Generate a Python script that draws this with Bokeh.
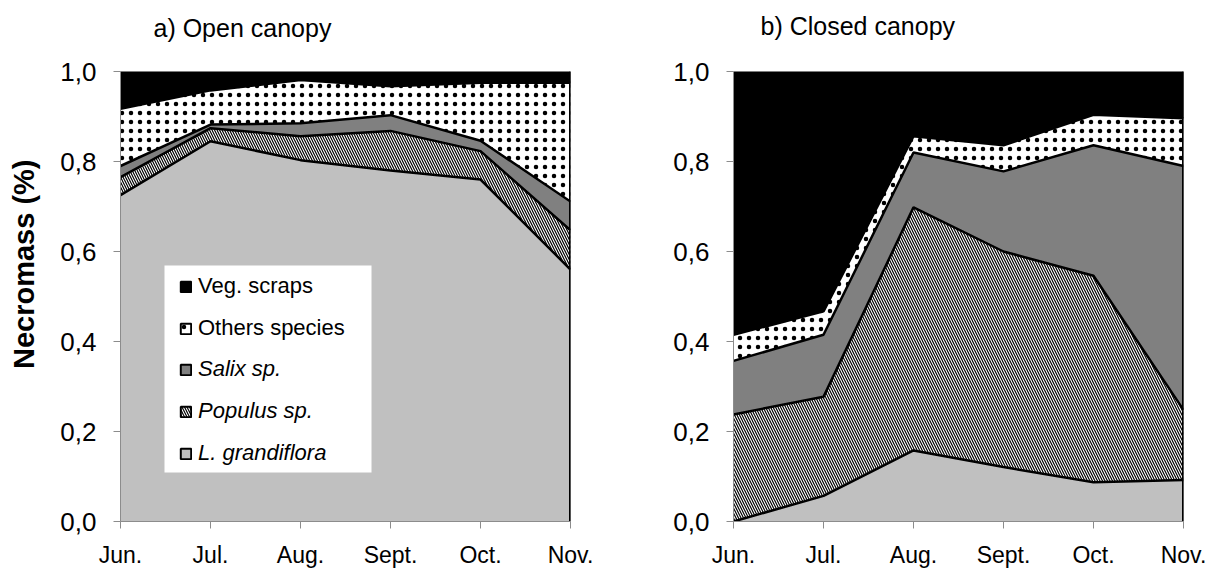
import numpy as np
from bokeh.plotting import figure
from bokeh.models import (Range1d, FixedTicker, CustomJSTickFormatter, Title, BoxAnnotation,
                          Legend, LegendItem, ColumnDataSource)
from bokeh.layouts import row
from bokeh.embed import file_html
from bokeh.resources import INLINE

months = ["Jun.", "Jul.", "Aug.", "Sept.", "Oct.", "Nov."]
y_ticks = [0.0, 0.2, 0.4, 0.6, 0.8, 1.0]
species = ["L. grandiflora", "Populus sp.", "Salix sp.", "Others species", "Veg. scraps"]

# a) Open canopy (fraction of necromass per group, bottom to top)
open_lgrandiflora = [0.725, 0.845, 0.803, 0.780, 0.760, 0.560]
open_populus      = [0.040, 0.029, 0.053, 0.088, 0.063, 0.087]
open_salix        = [0.025, 0.008, 0.029, 0.035, 0.023, 0.064]
open_others       = [0.127, 0.076, 0.096, 0.064, 0.129, 0.264]
open_vegscraps    = [0.083, 0.042, 0.019, 0.033, 0.025, 0.025]

# b) Closed canopy
closed_lgrandiflora = [0.000, 0.057, 0.158, 0.121, 0.087, 0.092]
closed_populus      = [0.238, 0.220, 0.540, 0.479, 0.459, 0.156]
closed_salix        = [0.119, 0.138, 0.122, 0.178, 0.290, 0.542]
closed_others       = [0.058, 0.052, 0.036, 0.058, 0.068, 0.106]
closed_vegscraps    = [0.585, 0.533, 0.144, 0.164, 0.096, 0.104]

styles = {
    "L. grandiflora": dict(fill_color="#c0c0c0"),
    "Populus sp.": dict(fill_color="white", hatch_pattern="\\", hatch_color="black",
                        hatch_scale=5, hatch_weight=1.2),
    "Salix sp.": dict(fill_color="#808080"),
    "Others species": dict(fill_color="white", hatch_pattern=".", hatch_color="black",
                           hatch_scale=9, hatch_weight=0.7),
    "Veg. scraps": dict(fill_color="black"),
}

FONT = "Liberation Sans"


def spacer(px):
    return Title(text=" ", text_font_size="1px", standoff=px)


def build(title, title_offset, title_gap, layers, left_border, right_border,
          top_border, bottom_border, with_legend):
    x = list(range(len(months)))
    p = figure(frame_width=450, frame_height=450,
               min_border_left=left_border, min_border_right=right_border,
               min_border_top=top_border, min_border_bottom=bottom_border,
               x_range=Range1d(0, len(months) - 1), y_range=Range1d(0, 1),
               output_backend="svg", toolbar_location=None,
               background_fill_color="white", border_fill_color="white")
    p.outline_line_color = "#a6a6a6"
    p.outline_line_width = 1
    p.grid.visible = False

    cum = np.zeros(len(months))
    tops, bottoms = [], []
    for name, vals in zip(species, layers):
        bottom = cum.copy()
        cum = cum + np.array(vals)
        src = ColumnDataSource(dict(x=x, y1=bottom, y2=cum))
        p.varea(x="x", y1="y1", y2="y2", source=src, **styles[name])
        tops.append(cum.copy())
        bottoms.append(bottom)
    for t in tops[:-1]:
        p.line(x, t, line_color="black", line_width=2.5)
    p.segment(x0=[x[-1]], y0=[0], x1=[x[-1]], y1=[tops[-1][-1]],
              line_color="black", line_width=3)

    # axes
    for ax in (p.xaxis[0], p.yaxis[0]):
        ax.axis_line_color = "#8c8c8c"
        ax.major_tick_line_color = "#8c8c8c"
        ax.major_tick_in = 0
        ax.major_tick_out = 7
        ax.minor_tick_line_color = None
        ax.major_label_text_font = FONT
        ax.major_label_text_color = "black"
    p.xaxis.ticker = FixedTicker(ticks=x)
    p.xaxis.major_label_overrides = {i: m for i, m in enumerate(months)}
    p.xaxis.major_label_text_font_size = "23px"
    p.xaxis.major_label_standoff = 13
    p.yaxis.ticker = FixedTicker(ticks=y_ticks)
    p.yaxis.formatter = CustomJSTickFormatter(code="return tick.toFixed(1).replace('.', ',');")
    p.yaxis.major_label_text_font_size = "26px"
    p.yaxis.major_label_standoff = 17

    # title: spacer next to the frame, then the title text
    p.add_layout(spacer(title_gap), "above")
    p.add_layout(Title(text=title, align="left", offset=title_offset, standoff=0,
                       vertical_align="top", text_font=FONT, text_font_size="25px",
                       text_font_style="normal", text_color="black"), "above")

    if with_legend:
        p.add_layout(spacer(15), "left")
        p.add_layout(Title(text="Necromass (%)", align="right", offset=88, standoff=0,
                           text_font=FONT, text_font_size="29px", text_font_style="bold",
                           text_color="black"), "left")
        leg_r = {}
        for i, name in enumerate(species):
            src = ColumnDataSource(dict(l=[x[0]], r=[x[0]], b=[bottoms[i][0]], t=[tops[i][0]]))
            leg_r[name] = p.quad(left="l", right="r", bottom="b", top="t", source=src,
                                 line_color="black", line_width=2, visible=False,
                                 **styles[name])
        p.add_layout(BoxAnnotation(left=44, right=251, bottom=49, top=256,
                                   left_units="screen", right_units="screen",
                                   bottom_units="screen", top_units="screen",
                                   fill_color="white", fill_alpha=1.0, line_color=None))
        common = dict(glyph_width=13, glyph_height=13, label_height=26, spacing=16,
                      padding=0, margin=0, label_standoff=6, label_width=170,
                      border_line_color=None, background_fill_alpha=0.0,
                      inactive_fill_alpha=0.0, label_text_font=FONT,
                      label_text_font_size="22px", label_text_color="black")
        leg_b = Legend(items=[LegendItem(label=n, renderers=[leg_r[n]])
                              for n in ["Salix sp.", "Populus sp.", "L. grandiflora"]],
                       location=(59, 55), label_text_font_style="italic", **common)
        leg_a = Legend(items=[LegendItem(label=n, renderers=[leg_r[n]])
                              for n in ["Veg. scraps", "Others species"]],
                       location=(59, 180), label_text_font_style="normal", **common)
        p.add_layout(leg_b, "center")
        p.add_layout(leg_a, "center")
    return p


left = build("a) Open canopy", 33, 25,
             [open_lgrandiflora, open_populus, open_salix, open_others, open_vegscraps],
             120, 30, 69, 50, True)
right = build("b) Closed canopy", 27, 27,
              [closed_lgrandiflora, closed_populus, closed_salix, closed_others, closed_vegscraps],
              133, 30, 71, 48, False)

layout = row(left, right)
open("out.html", "w").write(file_html(layout, INLINE))
